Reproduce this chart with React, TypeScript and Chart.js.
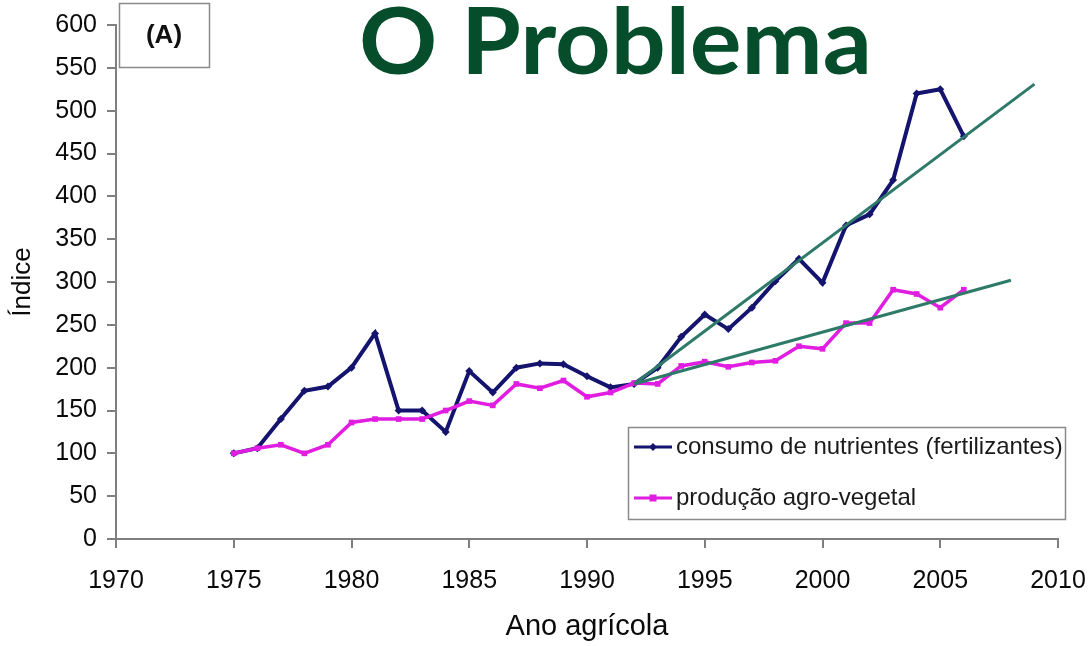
import React, { useEffect, useRef } from "react";
import { Chart, registerables } from "chart.js";

Chart.register(...registerables);

// ---- data ----
const years = [
  1975, 1976, 1977, 1978, 1979, 1980, 1981, 1982, 1983, 1984, 1985, 1986, 1987, 1988, 1989, 1990,
  1991, 1992, 1993, 1994, 1995, 1996, 1997, 1998, 1999, 2000, 2001, 2002, 2003, 2004, 2005, 2006,
];
const fertilizantes = [
  100, 106, 140, 173, 178, 200, 240, 150, 150, 125, 196, 171, 200, 205, 204, 190,
  177, 181, 200, 236, 262, 245, 270, 301, 327, 299, 366, 379, 419, 520, 525, 470,
];
const producao = [
  100, 106, 110, 100, 110, 136, 140, 140, 140, 150, 161, 156, 181, 176, 185, 166,
  171, 182, 181, 202, 207, 201, 206, 208, 225, 222, 252, 252, 291, 286, 270, 291,
];
const trendFertYears = [1992, 2009];
const trendFertValues = [181, 531];
const trendProdYears = [1992, 2008];
const trendProdValues = [181, 302];

const xTicks = [1970, 1975, 1980, 1985, 1990, 1995, 2000, 2005, 2010];
const seriesLabels = ["consumo de nutrientes (fertilizantes)", "produção agro-vegetal"];
const titleText = "O Problema";
const panelLabel = "(A)";
const xAxisTitle = "Ano agrícola";
const yAxisTitle = "Índice";

const FONT = "'Liberation Sans', Arial, sans-serif";
const NAVY = "#14146e";
const MAGENTA = "#e01de0";
const TEAL = "#2e7a68";

const toPoints = (xs: number[], ys: number[]) => xs.map((x, i) => ({ x, y: ys[i] }));

const decorations = {
  id: "decorations",
  afterDraw(chart: any) {
    const ctx: CanvasRenderingContext2D = chart.ctx;
    ctx.save();
    // big title, fitted to the reference width
    ctx.font = `700 92px Lato, 'Open Sans', sans-serif`;
    ctx.fillStyle = "#064d2c";
    ctx.textAlign = "center";
    ctx.textBaseline = "alphabetic";
    const w = ctx.measureText(titleText).width;
    const sx = 513 / w;
    ctx.save();
    ctx.translate(615.5, 74);
    ctx.scale(sx, 1);
    ctx.fillText(titleText, 0, 0);
    ctx.restore();

    // panel label box
    ctx.fillStyle = "#ffffff";
    ctx.fillRect(119, 3, 90, 64);
    ctx.strokeStyle = "#8a8a8a";
    ctx.lineWidth = 1.5;
    ctx.strokeRect(119.5, 3.5, 90, 64);
    ctx.font = `700 26px ${FONT}`;
    ctx.fillStyle = "#111111";
    ctx.textAlign = "center";
    ctx.textBaseline = "middle";
    ctx.fillText(panelLabel, 164, 36);

    // legend
    const lx = 628, ly = 427, lw = 437, lh = 92;
    ctx.fillStyle = "#ffffff";
    ctx.fillRect(lx, ly, lw, lh);
    ctx.strokeStyle = "#8a8a8a";
    ctx.lineWidth = 1.5;
    ctx.strokeRect(lx + 0.5, ly + 0.5, lw, lh);
    const rows = [447, 498];
    chart.data.datasets.slice(0, 2).forEach((ds: any, i: number) => {
      const y = rows[i];
      ctx.strokeStyle = ds.borderColor;
      ctx.lineWidth = 3;
      ctx.beginPath();
      ctx.moveTo(634, y);
      ctx.lineTo(672, y);
      ctx.stroke();
      ctx.fillStyle = ds.borderColor;
      const mx = 653;
      if (ds.pointStyle === "rectRot") {
        ctx.beginPath();
        ctx.moveTo(mx, y - 4);
        ctx.lineTo(mx + 4, y);
        ctx.lineTo(mx, y + 4);
        ctx.lineTo(mx - 4, y);
        ctx.closePath();
        ctx.fill();
      } else {
        ctx.fillRect(mx - 3.5, y - 3.5, 7, 7);
      }
      ctx.font = `24px ${FONT}`;
      ctx.fillStyle = "#1a1a1a";
      ctx.textAlign = "left";
      ctx.textBaseline = "middle";
      ctx.fillText(ds.label, 676, y);
    });
    ctx.restore();
  },
};

export default function App() {
  const ref = useRef<HTMLCanvasElement | null>(null);

  useEffect(() => {
    if (!ref.current) return;
    const chart = new Chart(ref.current, {
      type: "line",
      data: {
        datasets: [
          {
            label: seriesLabels[0],
            data: toPoints(years, fertilizantes),
            borderColor: NAVY,
            backgroundColor: NAVY,
            borderWidth: 4,
            pointStyle: "rectRot",
            pointRadius: 4,
            pointBorderWidth: 0,
            order: 2,
          },
          {
            label: seriesLabels[1],
            data: toPoints(years, producao),
            borderColor: MAGENTA,
            backgroundColor: MAGENTA,
            borderWidth: 3.5,
            pointStyle: "rect",
            pointRadius: 4,
            pointBorderWidth: 0,
            order: 1,
          },
          {
            label: "tendência fertilizantes",
            data: toPoints(trendFertYears, trendFertValues),
            borderColor: TEAL,
            borderWidth: 3,
            pointRadius: 0,
            order: 0,
          },
          {
            label: "tendência produção",
            data: toPoints(trendProdYears, trendProdValues),
            borderColor: TEAL,
            borderWidth: 3,
            pointRadius: 0,
            order: 0,
          },
        ],
      },
      options: {
        responsive: false,
        animation: false,
        devicePixelRatio: 1,
        layout: { padding: { top: 22, right: 34, left: 0, bottom: 0 } },
        plugins: { legend: { display: false }, tooltip: { enabled: false }, title: { display: false } },
        scales: {
          x: {
            type: "linear",
            min: 1970,
            max: 2010,
            afterBuildTicks: (s: any) => {
              s.ticks = xTicks.map((v) => ({ value: v }));
            },
            afterFit: (s: any) => {
              s.height = 107;
              s.paddingLeft = 0;
              s.paddingRight = 0;
            },
            ticks: {
              callback: (v: any) => String(v),
              font: { family: FONT, size: 25 },
              color: "#0a0a0a",
              padding: 18,
              maxRotation: 0,
              autoSkip: false,
            },
            grid: { drawOnChartArea: false, drawTicks: true, tickLength: 9, color: "#7f7f7f", lineWidth: 2 },
            border: { color: "#7f7f7f", width: 2 },
            title: {
              display: true,
              text: xAxisTitle,
              font: { family: FONT, size: 29 },
              color: "#0a0a0a",
              padding: { top: 0, bottom: 2 },
            },
          },
          y: {
            min: 0,
            max: 600,
            afterFit: (s: any) => {
              s.width = 116;
            },
            ticks: {
              stepSize: 50,
              font: { family: FONT, size: 25 },
              color: "#0a0a0a",
              padding: 10,
            },
            grid: { drawOnChartArea: false, drawTicks: true, tickLength: 9, color: "#7f7f7f", lineWidth: 2 },
            border: { color: "#7f7f7f", width: 2 },
            title: {
              display: true,
              text: yAxisTitle,
              font: { family: FONT, size: 26 },
              color: "#0a0a0a",
              padding: { top: 7, bottom: 0 },
            },
          },
        },
      },
      plugins: [decorations],
    });
    return () => chart.destroy();
  }, []);

  return (
    <div style={{ position: "absolute", left: 0, top: 0, width: 1092, height: 646, background: "#fff" }}>
      <canvas ref={ref} width={1092} height={646} style={{ display: "block" }} />
    </div>
  );
}
